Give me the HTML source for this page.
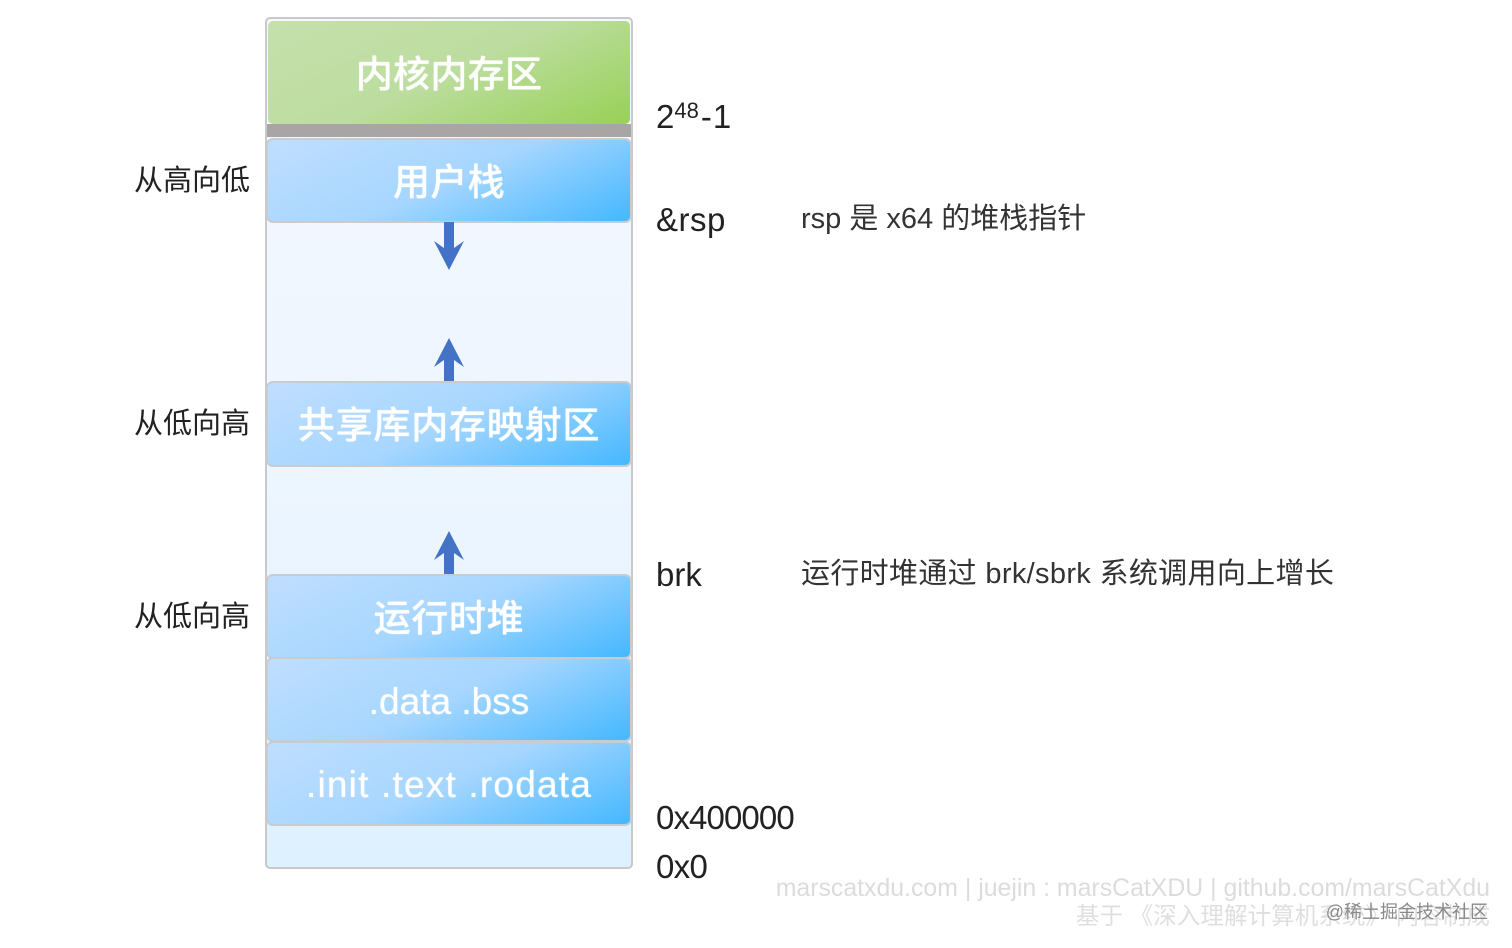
<!DOCTYPE html>
<html><head><meta charset="utf-8">
<style>
html,body{margin:0;padding:0;background:#fff;width:1512px;height:948px;overflow:hidden}
body{position:relative;font-family:"Liberation Sans","Noto Sans CJK SC",sans-serif}
.a{position:absolute}
#outer{left:265px;top:17px;width:364px;height:848px;border:2px solid #c9c9cb;border-radius:5px;background:linear-gradient(180deg,#f5f8ff 0%,#eef6ff 50%,#def1ff 100%)}
.b{position:absolute;left:266px;width:362px;border:2px solid #c8cbd0;border-radius:7px;background:linear-gradient(155deg,#c0deff 0%,#a6d6ff 50%,#44b8ff 100%);color:#fff;text-align:center;font-size:37px;display:flex;align-items:center;justify-content:center;box-sizing:content-box;font-weight:500;text-shadow:0 0 1px #fff}
.t{position:absolute;white-space:nowrap;color:#222;line-height:1}
.c{font-size:29px;color:#333}
.m{font-size:33px}
.n{font-size:29px}
</style></head><body>
<div class="a" id="outer"></div>
<div class="a" style="left:267px;top:124px;width:364px;height:13px;background:#aaa5a5"></div>
<div class="a" style="left:268px;top:21px;width:362px;height:103px;border-radius:5px;background:linear-gradient(155deg,#c5e0ac 0%,#bcdd9f 50%,#98d156 100%);color:#fff;font-size:37px;font-weight:500;display:flex;align-items:center;justify-content:center;text-shadow:0 0 1px #fff"><span style="position:relative;top:-2px;letter-spacing:0.3px">内核内存区</span></div>
<div class="b" style="top:138px;height:81px"><span style="position:relative;top:-2px;letter-spacing:0.3px">用户栈</span></div>
<div class="b" style="top:381px;height:82px"><span style="position:relative;top:-2px;letter-spacing:0.8px">共享库内存映射区</span></div>
<div class="b" style="top:574px;height:81px"><span style="position:relative;top:-2px;letter-spacing:0.6px">运行时堆</span></div>
<div class="b" style="top:657px;height:81px"><span style="position:relative;top:2px">.data .bss</span></div>
<div class="b" style="top:741px;height:81px"><span style="position:relative;top:1px;letter-spacing:1.2px">.init .text .rodata</span></div>
<svg class="a" style="left:0;top:0" width="1512" height="948">
<g fill="#4472c4">
<path d="M444 222H454V248L464 241L449 270L434 241L444 248Z"/>
<path d="M444 381H454V360L464 367L449 338L434 367L444 360Z"/>
<path d="M444 574H454V553L464 560L449 531L434 560L444 553Z"/>
</g>
</svg>
<div class="t n" style="left:134px;top:167px">从高向低</div>
<div class="t n" style="left:134px;top:410px">从低向高</div>
<div class="t n" style="left:134px;top:603px">从低向高</div>
<div class="t m" style="left:656px;top:100px">2<span style="font-size:22px;position:relative;top:-10px">48</span><span style="margin-left:2px">-</span><span style="margin-left:1px">1</span></div>
<div class="t m" style="left:656px;top:203px;letter-spacing:0.5px">&amp;rsp</div>
<div class="t m" style="left:656px;top:558px">brk</div>
<div class="t m" style="left:656px;top:801px;letter-spacing:-0.9px">0x400000</div>
<div class="t m" style="left:656px;top:850px;letter-spacing:-0.7px">0x0</div>
<div class="t c" style="left:801px;top:205px">rsp 是 x64 的堆栈指针</div>
<div class="t c" style="left:801px;top:560px;letter-spacing:0.33px">运行时堆通过 brk/sbrk 系统调用向上增长</div>
<div class="t" style="right:22px;top:877px;font-size:24.85px;color:#dcdcdc">marscatxdu.com | juejin : marsCatXDU | github.com/marsCatXdu</div>
<div class="t" style="right:22px;top:906px;font-size:23.6px;color:#dfdfdf">基于 《深入理解计算机系统》 内容制成</div>
<div class="t" style="right:24px;top:903px;font-size:18px;color:#8a8a8a">@稀土掘金技术社区</div>
</body></html>
